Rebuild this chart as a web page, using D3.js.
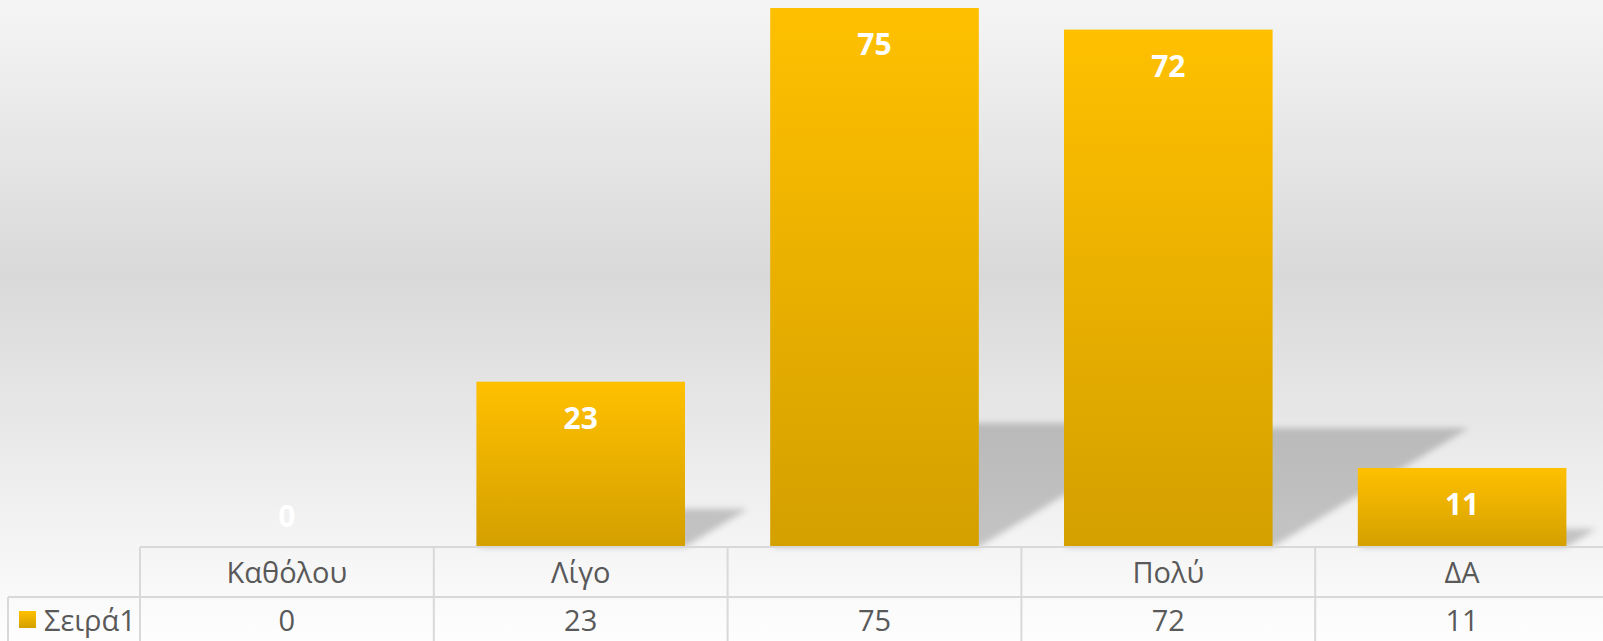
<!DOCTYPE html>
<html>
<head>
<meta charset="utf-8">
<script src="https://cdn.jsdelivr.net/npm/d3@7"></script>
<style>
  body { margin: 0; overflow: hidden; background: #fff; }
  text { font-family: "Open Sans", "Noto Sans", sans-serif; }
</style>
</head>
<body>
<div id="chart"></div>
<script>
// chart data
const categories = ["Καθόλου", "Λίγο", "", "Πολύ", "ΔΑ"];
const values = [0, 23, 75, 72, 11];
const seriesName = "Σειρά1";

const W = 1603, H = 641;
const baseY = 547;        // x axis / top of the data table
const rowH = 50;
const tableLeft = 140;

const svg = d3.select("#chart").append("svg")
    .attr("width", W)
    .attr("height", H);

const defs = svg.append("defs");

// background gradient
const bg = defs.append("linearGradient")
    .attr("id", "bgGrad")
    .attr("x1", 0).attr("y1", 0).attr("x2", 0).attr("y2", 1);
bg.append("stop").attr("offset", "0%").attr("stop-color", "#f5f5f5");
bg.append("stop").attr("offset", "43%").attr("stop-color", "#d9d9d9");
bg.append("stop").attr("offset", "100%").attr("stop-color", "#fefefe");

// bar gradient
const barGrad = defs.append("linearGradient")
    .attr("id", "barGrad")
    .attr("x1", 0).attr("y1", 0).attr("x2", 0).attr("y2", 1);
barGrad.append("stop").attr("offset", "0%").attr("stop-color", "#ffc000");
barGrad.append("stop").attr("offset", "100%").attr("stop-color", "#d4a000");

// blur for the cast shadows
defs.append("filter")
    .attr("id", "shadowBlur")
    .attr("x", "-20%").attr("y", "-20%").attr("width", "140%").attr("height", "140%")
    .append("feGaussianBlur")
    .attr("stdDeviation", 3);

svg.append("rect")
    .attr("width", W)
    .attr("height", H)
    .attr("fill", "url(#bgGrad)");

// scales
const x = d3.scaleBand()
    .domain(categories)
    .range([tableLeft, tableLeft + 5 * 293.8])
    .paddingInner(0.29)
    .paddingOuter(0.145);

const y = d3.scaleLinear()
    .domain([0, 80])
    .range([baseY, baseY - 80 * (539 / 75)]);

const gap = (x.step() - x.bandwidth()) / 2;

// perspective shadows behind the bars
const skew = 1.65, shadowRatio = 0.23;
svg.append("g")
    .attr("filter", "url(#shadowBlur)")
    .selectAll("path")
    .data(values.map((v, i) => ({ v, c: categories[i] })))
    .join("path")
    .attr("d", d => {
        const x0 = x(d.c), x1 = x(d.c) + x.bandwidth();
        const h = (baseY - y(d.v)) * shadowRatio;
        const dx = h * skew;
        return `M${x0},${baseY}L${x1},${baseY}L${x1 + dx},${baseY - h}L${x0 + dx},${baseY - h}Z`;
    })
    .attr("fill", "#000")
    .attr("fill-opacity", 0.2);

// bars
svg.append("g")
    .selectAll("rect")
    .data(values.map((v, i) => ({ v, c: categories[i] })))
    .join("rect")
    .attr("x", d => x(d.c))
    .attr("y", d => y(d.v))
    .attr("width", x.bandwidth())
    .attr("height", d => baseY - y(d.v))
    .attr("fill", "url(#barGrad)");

// data labels
svg.append("g")
    .selectAll("text")
    .data(values.map((v, i) => ({ v, c: categories[i] })))
    .join("text")
    .attr("x", d => x(d.c) + x.bandwidth() / 2)
    .attr("y", d => Math.min(y(d.v) + 47, baseY - 20))
    .attr("text-anchor", "middle")
    .attr("fill", "#fff")
    .style("font-size", "30px")
    .style("font-weight", "bold")
    .text(d => d.v);

// data table
const grid = svg.append("g")
    .attr("stroke", "#d9d9d9")
    .attr("stroke-width", 2);

grid.append("line")
    .attr("x1", tableLeft).attr("x2", W)
    .attr("y1", baseY).attr("y2", baseY);
grid.append("line")
    .attr("x1", 8).attr("x2", W)
    .attr("y1", baseY + rowH).attr("y2", baseY + rowH);
grid.append("line")
    .attr("x1", 8).attr("x2", 8)
    .attr("y1", baseY + rowH).attr("y2", H);
grid.selectAll("line.col")
    .data(categories)
    .join("line")
    .attr("class", "col")
    .attr("x1", d => x(d) - gap).attr("x2", d => x(d) - gap)
    .attr("y1", baseY).attr("y2", H);

const tableText = svg.append("g")
    .attr("fill", "#595959")
    .style("font-size", "29px");

tableText.selectAll("text.cat")
    .data(categories)
    .join("text")
    .attr("class", "cat")
    .attr("x", d => x(d) + x.bandwidth() / 2)
    .attr("y", baseY + 36)
    .attr("text-anchor", "middle")
    .text(d => d);

tableText.selectAll("text.val")
    .data(values.map((v, i) => ({ v, c: categories[i] })))
    .join("text")
    .attr("class", "val")
    .attr("x", d => x(d.c) + x.bandwidth() / 2)
    .attr("y", baseY + rowH + 34)
    .attr("text-anchor", "middle")
    .text(d => d.v);

// legend key in the table
svg.append("rect")
    .attr("x", 19)
    .attr("y", 611)
    .attr("width", 17)
    .attr("height", 17)
    .attr("fill", "url(#barGrad)");

tableText.append("text")
    .attr("x", 44)
    .attr("y", baseY + rowH + 34)
    .text(seriesName);
</script>
</body>
</html>
